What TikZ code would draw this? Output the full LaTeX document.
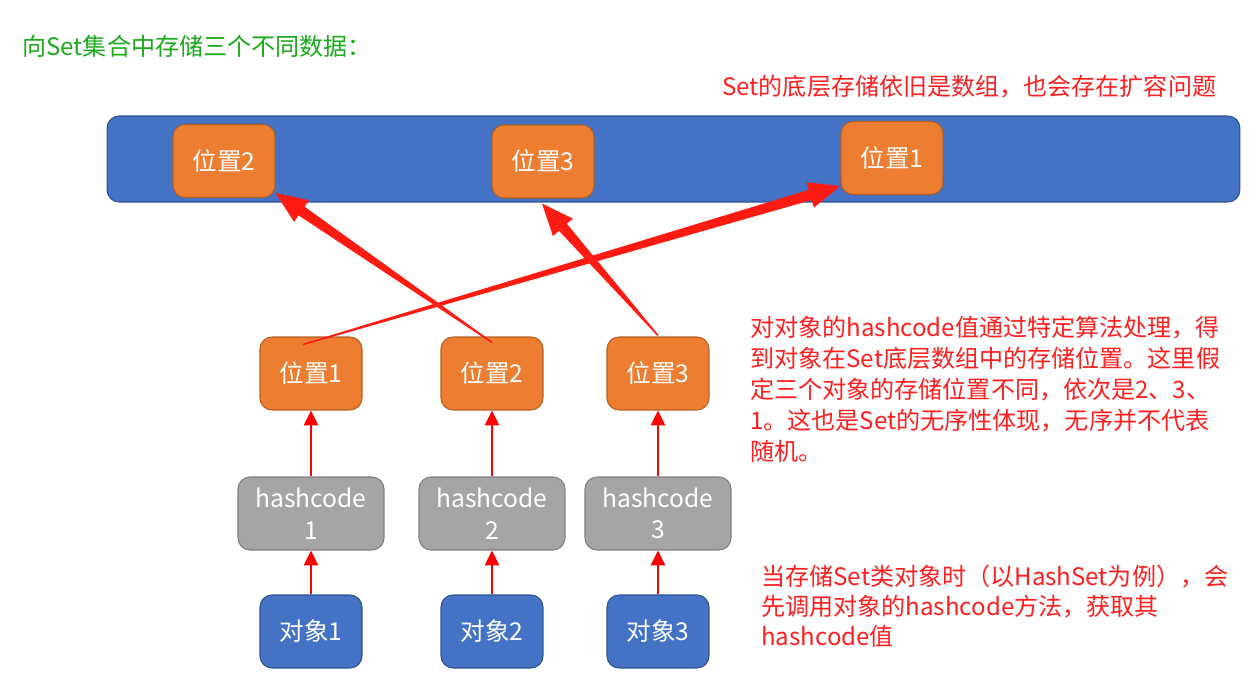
\documentclass[tikz,border=0pt]{standalone}
\usepackage{fontspec}
\newfontfamily\cjk{Noto Sans CJK SC}
\usepackage{tikz}
\usetikzlibrary{arrows.meta, calc, positioning}

\definecolor{boxblue}{HTML}{4472C4}
\definecolor{blueedge}{HTML}{2F528F}
\definecolor{boxorange}{HTML}{ED7D31}
\definecolor{orangeedge}{HTML}{B4601F}
\definecolor{boxgray}{HTML}{A5A5A5}
\definecolor{grayedge}{HTML}{7F7F7F}
\definecolor{arrowred}{HTML}{FF1A12}
\definecolor{notered}{HTML}{FF1F1F}
\definecolor{titlegreen}{HTML}{1AAA1A}

% tapered arrow: thin at #1, wide head at #2
\newcommand{\taperarrow}[2]{%
    \coordinate (hb) at ($(#2)!18pt!(#1)$);
    \fill[arrowred] ($(#1)!0.4pt!90:(#2)$) -- ($(hb)!3pt!90:(#2)$) -- ($(hb)!7.5pt!90:(#2)$) -- (#2)
        -- ($(hb)!7.5pt!-90:(#2)$) -- ($(hb)!3pt!-90:(#2)$) -- ($(#1)!0.4pt!-90:(#2)$) -- cycle;
}

\begin{document}
\begin{tikzpicture}[x=0.02cm, y=-0.02cm,
    every node/.style={font=\cjk},
    posbox/.style={draw=orangeedge, fill=boxorange, rounded corners=0.24cm, line width=0.6pt,
        minimum width=2.04cm, minimum height=1.46cm, text=white, font=\cjk\fontsize{14}{17}\selectfont},
    objbox/.style={posbox, draw=blueedge, fill=boxblue},
    hashbox/.style={posbox, draw=grayedge, fill=boxgray, minimum width=2.92cm, align=center,
        font=\cjk\fontsize{14}{18}\selectfont},
    note/.style={text=notered, align=left, anchor=west, inner sep=0pt, font=\cjk\fontsize{13.7}{17.6}\selectfont},
    uparrow/.style={-{Triangle[width=8pt,length=8.5pt]}, line width=1.7pt, red}]
    \useasboundingbox (0,0) rectangle (1259,692);
    \fill[white] (0,0) rectangle (1259,692);
    % Texts
    \node[anchor=west, inner sep=0pt, text=titlegreen, font=\cjk\fontsize{13.7}{16}\selectfont] (title) at (22,46) {向Set集合中存储三个不同数据：};
    \node[note] (arraynote) at (722,87) {Set的底层存储依旧是数组，也会存在扩容问题};
    \node[note] (posnote) at (750,389) {对对象的hashcode值通过特定算法处理，得\\到对象在Set底层数组中的存储位置。这里假\\定三个对象的存储位置不同，依次是2、3、\\1。这也是Set的无序性体现，无序并不代表\\随机。};
    \node[note, font=\cjk\fontsize{13.7}{17}\selectfont] (hashnote) at (761,606) {当存储Set类对象时（以HashSet为例），会\\先调用对象的hashcode方法，获取其\\hashcode值};
    % Array
    \node[draw=blueedge, fill=boxblue, rounded corners=0.24cm, line width=0.6pt, minimum width=22.66cm,
        minimum height=1.72cm, inner sep=0pt] (bar) at (673.5,159) {};
    \node[posbox] (t2) at (224,161) {位置2};
    \node[posbox] (t3) at (543,161.5) {位置3};
    \node[posbox] (t1) at (892,158) {位置1};
    % Objects, hashcodes, positions
    \foreach \i/\x in {1/311, 2/492, 3/658} {
        \node[objbox] (o\i) at (\x,631.5) {对象\i};
        \node[hashbox] (h\i) at (\x,513.5) {hashcode\\\i};
        \node[posbox] (m\i) at (\x,373.5) {位置\i};
        \draw[uparrow] (o\i.north) -- (h\i.south);
        \draw[uparrow] (h\i.north) -- (m\i.south);
    }
    % Mapping to array
    \coordinate (s1) at ($(m1.north)+(-8,8)$);
    \coordinate (s2) at ($(m2.north)+(0,6)$);
    \coordinate (s3) at ($(m3.north)+(0,-1)$);
    \coordinate (e1) at ($(t1.south west)+(0,-9)$);
    \coordinate (e2) at ($(t2.south east)+(0,-5)$);
    \coordinate (e3) at ($(t3.south)+(-1,5)$);
    \taperarrow{s1}{e1}
    \taperarrow{s2}{e2}
    \taperarrow{s3}{e3}
\end{tikzpicture}
\end{document}
